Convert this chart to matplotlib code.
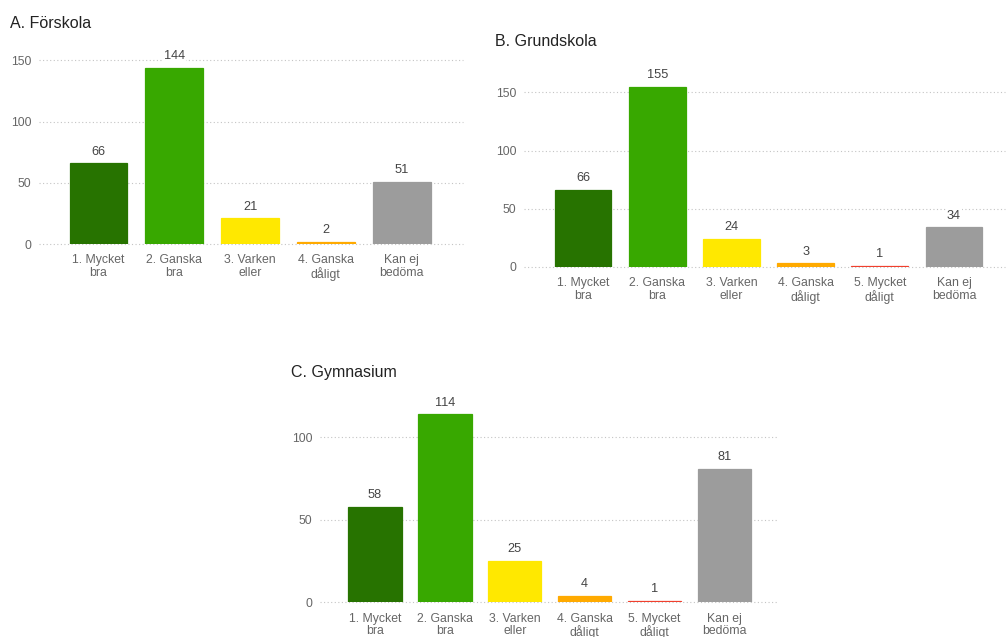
import matplotlib
matplotlib.use("Agg")
import matplotlib.pyplot as plt

plt.rcParams['font.family'] = ['Liberation Sans', 'DejaVu Sans']

# Response categories and counts per school type
cats_a = ["1. Mycket\nbra", "2. Ganska\nbra", "3. Varken\neller", "4. Ganska\ndåligt", "Kan ej\nbedöma"]
vals_a = [66, 144, 21, 2, 51]
cols_a = ["#277300", "#38a800", "#ffe800", "#ffaa00", "#9c9c9c"]

cats_b = ["1. Mycket\nbra", "2. Ganska\nbra", "3. Varken\neller", "4. Ganska\ndåligt", "5. Mycket\ndåligt", "Kan ej\nbedöma"]
vals_b = [66, 155, 24, 3, 1, 34]
cols_b = ["#277300", "#38a800", "#ffe800", "#ffaa00", "#f0402e", "#9c9c9c"]

cats_c = ["1. Mycket\nbra", "2. Ganska\nbra", "3. Varken\neller", "4. Ganska\ndåligt", "5. Mycket\ndåligt", "Kan ej\nbedöma"]
vals_c = [58, 114, 25, 4, 1, 81]
cols_c = ["#277300", "#38a800", "#ffe800", "#ffaa00", "#f0402e", "#9c9c9c"]

yticks_a = [0, 50, 100, 150]
yticks_b = [0, 50, 100, 150]
yticks_c = [0, 50, 100]

W, H = 1006, 637
fig = plt.figure(figsize=(W / 100, H / 100), dpi=100)


def px_axes(left, right, bottom, top):
    return fig.add_axes([left / W, 1 - bottom / H, (right - left) / W, (bottom - top) / H])


def panel(ax, cats, vals, cols, yticks, xlim, ylim, title, title_xy):
    x = list(range(len(cats)))
    ax.bar(x, vals, width=0.765, color=cols, edgecolor=cols, linewidth=0.9, zorder=3)
    for xi, v in zip(x, vals):
        ax.annotate(str(v), (xi, v), xytext=(0, 4), textcoords="offset points",
                    ha="center", va="bottom", fontsize=9.2, color="#444444", zorder=4,
                    bbox=dict(boxstyle="square,pad=0.1", fc="white", ec="none"))
    ax.set_xlim(*xlim)
    ax.set_ylim(*ylim)
    ax.set_yticks(yticks)
    ax.set_xticks(x)
    ax.set_xticklabels(cats, fontsize=8.8, color="#666666", linespacing=1.05)
    ax.tick_params(axis="x", length=0, pad=7.5)
    ax.tick_params(axis="y", length=0, pad=5.5, labelsize=8.8, labelcolor="#666666")
    ax.grid(axis="y", color="#c4c4c4", linestyle=(0, (1, 2.2)), linewidth=0.8, zorder=0)
    ax.grid(axis="x", visible=False)
    for gl in ax.get_ygridlines():
        gl.set_clip_on(False)
    for s in ax.spines.values():
        s.set_visible(False)
    ax.set_facecolor("none")
    fig.text(title_xy[0] / W, 1 - title_xy[1] / H, title, fontsize=11.5,
             color="#222222", ha="left", va="center")


ax_a = px_axes(39, 463, 244, 48)
panel(ax_a, cats_a, vals_a, cols_a, yticks_a, (-0.785, 4.81), (0, 160),
      "A. Förskola", (10, 24))

ax_b = px_axes(524, 1005, 266.7, 75)
panel(ax_b, cats_b, vals_b, cols_b, yticks_b, (-0.795, 5.687), (0, 165),
      "B. Grundskola", (495, 41))

ax_c = px_axes(320, 778, 602.3, 396)
panel(ax_c, cats_c, vals_c, cols_c, yticks_c, (-0.788, 5.77), (0, 125),
      "C. Gymnasium", (291, 373))

fig.savefig("out.png", dpi=100, facecolor="white")
